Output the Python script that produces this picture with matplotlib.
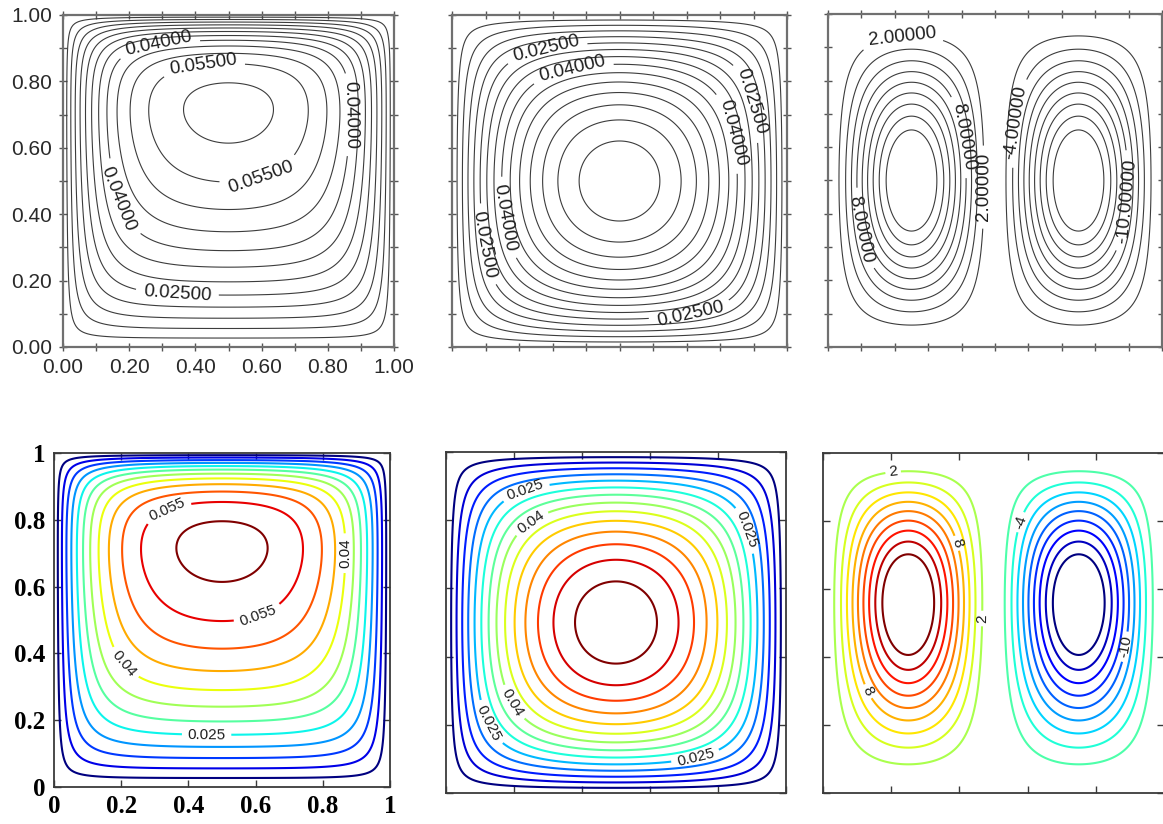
import numpy as np
import matplotlib.pyplot as plt
from matplotlib.colors import Normalize
from matplotlib.ticker import MultipleLocator, FormatStrFormatter

# contour levels
levels_left = [0.005, 0.01, 0.015, 0.02, 0.025, 0.03, 0.035, 0.04, 0.045, 0.05, 0.055, 0.06]
levels_mid = [0.005, 0.01, 0.015, 0.02, 0.025, 0.03, 0.035, 0.04, 0.045, 0.05,
              0.055, 0.06, 0.065, 0.07]
levels_right = [-18, -16, -14, -12, -10, -8, -6, -4, -2, 2, 4, 6, 8, 10, 12, 14, 16, 18]

labels_left = [0.025, 0.04, 0.055]
labels_mid = [0.025, 0.04]
labels_right = [-10, -4, 2, 8]

# problem parameters:  -a u_xx - u_yy + c u_y + sigma u = const,  u = 0 on the walls
diff_left, conv_left, react_left, peak_left = 0.7, 9.0, 26.0, 0.0618
diff_mid, conv_mid, react_mid = 1.0, 0.0, 0.0
cell_amp = 21.5        # peak of the two counter-rotating cells
cell_pow = 1.5
cell_skew_top = 0.0
cell_skew_bottom = 0.24

# ---- fields -------------------------------------------------------------
N = 199
h = 1.0 / (N + 1)
k = np.arange(1, N + 1)
Q = np.sqrt(2.0 / (N + 1)) * np.sin(np.pi * np.outer(k, k) / (N + 1))
lam = (2 - 2 * np.cos(np.pi * k / (N + 1))) / h**2
g = np.linspace(0, 1, N + 2)
X, Y = np.meshgrid(g, g)


def solve(a, c, sigma):
    # substitution u = exp(c y / 2) w removes the convection term
    yi = g[1:-1]
    F = np.ones((N, N)) * np.exp(-c * yi / 2)[:, None]
    G = Q @ F @ Q
    W = Q @ (G / (lam[:, None] + a * lam[None, :] + c**2 / 4 + sigma)) @ Q
    U = np.zeros((N + 2, N + 2))
    U[1:-1, 1:-1] = W * np.exp(c * yi / 2)[:, None]
    return U


def cells(skew):
    yw = Y - skew * Y * (1 - Y)
    s = np.sin(2 * np.pi * X) * np.sin(np.pi * yw)
    return cell_amp * np.sign(s) * np.abs(s) ** cell_pow


Z_left = solve(diff_left, conv_left, react_left)
Z_left *= peak_left / Z_left.max()
Z_mid = solve(diff_mid, conv_mid, react_mid)
Z_right_top = cells(cell_skew_top)
Z_right_bot = cells(cell_skew_bottom)

# ---- figure -------------------------------------------------------------
W_PX, H_PX = 1163, 824
fig = plt.figure(figsize=(W_PX / 100, H_PX / 100), dpi=100)


def box(x0, x1, y0, y1):
    return [x0 / W_PX, 1 - y1 / H_PX, (x1 - x0) / W_PX, (y1 - y0) / H_PX]


ax1 = fig.add_axes(box(63, 394, 15, 347))
ax2 = fig.add_axes(box(452, 787, 15, 347))
ax3 = fig.add_axes(box(828, 1162, 14, 347))
ax4 = fig.add_axes(box(54, 390, 453, 787))
ax5 = fig.add_axes(box(446, 786, 452, 793))
ax6 = fig.add_axes(box(823, 1164, 453, 793))

sans = 'Liberation Sans'
gray_line = '#3c3c3c'


def draw(ax, Z, lev, lab, pos, fmt, fsize, **style):
    # plain levels first, labelled levels as their own set so clabel only sees them
    plain = [v for v in lev if v not in lab]
    ax.contour(X, Y, Z, levels=plain, linestyles='solid', **style)
    cs = ax.contour(X, Y, Z, levels=lab, linestyles='solid', **style)
    txt = ax.clabel(cs, manual=pos, fmt=fmt, fontsize=fsize, colors='#1e1e1e',
                    inline=True, inline_spacing=3)
    for t in txt:
        t.set_family(sans)


top = [(ax1, Z_left, levels_left, labels_left,
        [(0.29, 0.905), (0.43, 0.80), (0.865, 0.70), (0.60, 0.50), (0.15, 0.44), (0.345, 0.155)]),
       (ax2, Z_mid, levels_mid, labels_mid,
        [(0.284, 0.884), (0.363, 0.82), (0.876, 0.734), (0.81, 0.64), (0.17, 0.39),
         (0.11, 0.31), (0.706, 0.126)]),
       (ax3, Z_right_top, levels_right, labels_right,
        [(0.225, 0.887), (0.375, 0.627), (0.49, 0.48), (0.585, 0.67), (0.13, 0.36),
         (0.875, 0.44)])]

for ax, Z, lev, lab, pos in top:
    draw(ax, Z, lev, lab, pos, '%.5f', 13.5, colors=gray_line, linewidths=0.8)
    ax.set_xlim(0, 1)
    ax.set_ylim(0, 1)
    for sp in ax.spines.values():
        sp.set_color('#707070')
        sp.set_linewidth(1.6)
    for axis in (ax.xaxis, ax.yaxis):
        axis.set_major_locator(MultipleLocator(0.2))
        axis.set_minor_locator(MultipleLocator(0.1))
    ax.tick_params(which='both', direction='inout', length=6, width=1, color='#555555',
                   top=True, right=True)
    if ax is ax1:
        ax.xaxis.set_major_formatter(FormatStrFormatter('%.2f'))
        ax.yaxis.set_major_formatter(FormatStrFormatter('%.2f'))
        ax.tick_params(which='major', labelsize=15, labelcolor='#2a2a2a', pad=5)
        for t in ax.get_xticklabels() + ax.get_yticklabels():
            t.set_family(sans)
    else:
        ax.tick_params(labelbottom=False, labelleft=False)

bottom = [(ax4, Z_left, levels_left, labels_left,
           [(0.34, 0.823), (0.871, 0.70), (0.618, 0.48), (0.19, 0.354), (0.454, 0.135)]),
          (ax5, Z_mid, levels_mid, labels_mid,
           [(0.242, 0.863), (0.281, 0.75), (0.85, 0.76), (0.223, 0.28), (0.154, 0.218),
            (0.727, 0.135)]),
          (ax6, Z_right_bot, levels_right, labels_right,
           [(0.206, 0.94), (0.387, 0.733), (0.48, 0.513), (0.569, 0.80), (0.118, 0.292),
            (0.887, 0.43)])]

for ax, Z, lev, lab, pos in bottom:
    norm = Normalize(min(lev), max(lev))
    draw(ax, Z, lev, lab, pos, '%g', 11, cmap='jet', norm=norm, linewidths=1.5)
    ax.set_xlim(0, 1)
    ax.set_ylim(0, 1)
    for sp in ax.spines.values():
        sp.set_color('#3a3a3a')
        sp.set_linewidth(1.3)
    ax.xaxis.set_major_locator(MultipleLocator(0.2))
    ax.yaxis.set_major_locator(MultipleLocator(0.2))
    ax.tick_params(direction='in', length=5, width=1, color='#3a3a3a', top=True, right=True)
    if ax is ax4:
        ax.xaxis.set_major_formatter(FormatStrFormatter('%g'))
        ax.yaxis.set_major_formatter(FormatStrFormatter('%g'))
        ax.tick_params(labelsize=18, pad=6)
        for t in ax.get_xticklabels() + ax.get_yticklabels():
            t.set_family('Liberation Serif')
            t.set_weight('bold')
    else:
        ax.tick_params(labelbottom=False, labelleft=False)

fig.savefig('out.png', dpi=100)
